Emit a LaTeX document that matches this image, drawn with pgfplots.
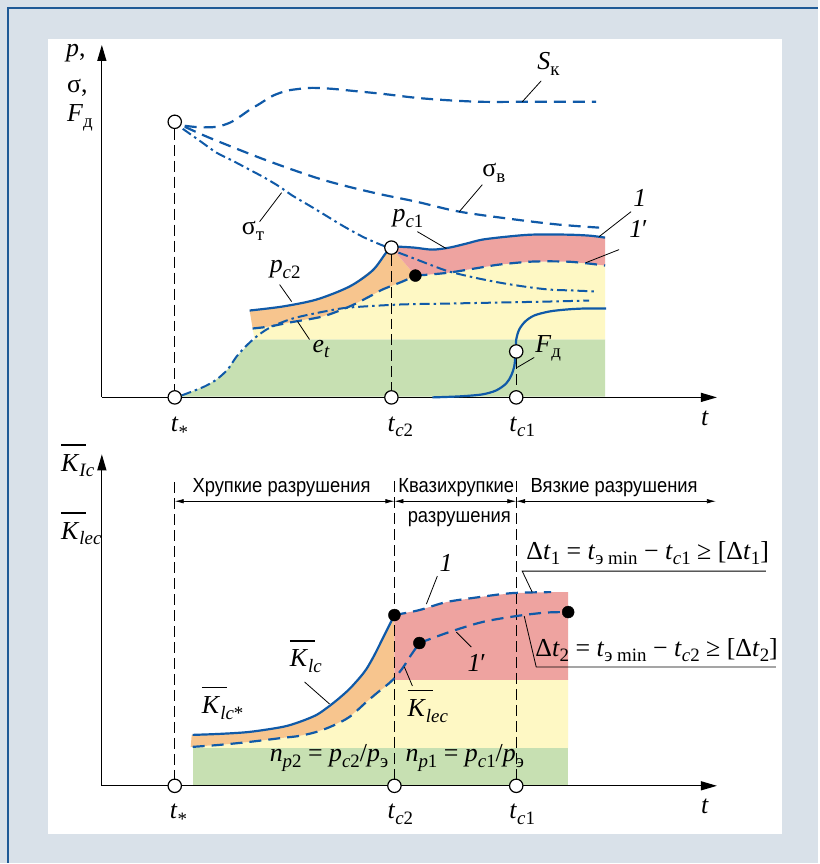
\documentclass[border=0pt]{standalone}
\usepackage{fontspec}
\setmainfont{Liberation Serif}
\newfontfamily\ru[FakeStretch=0.9]{Liberation Sans}
\usepackage{pgfplots}
\pgfplotsset{compat=1.18}
\usetikzlibrary{arrows.meta}
\definecolor{bgc}{RGB}{217,225,233}
\definecolor{brd}{RGB}{31,90,150}
\definecolor{bl}{RGB}{16,90,168}
\definecolor{gr}{RGB}{199,224,178}
\definecolor{ye}{RGB}{254,248,196}
\definecolor{orc}{RGB}{247,197,142}
\definecolor{pk}{RGB}{238,163,160}
\newcommand{\mt}{\fontsize{26}{29}\selectfont}
\newcommand{\lo}[1]{\raisebox{-5.5bp}{\fontsize{19}{19}\selectfont #1}}
\newcommand{\Kb}{\makebox[0pt][l]{\rule[25.5bp]{25bp}{1.4bp}}\textit{K}}
\pgfplotsset{ch/.style={scale only axis, axis lines=left, xtick=\empty, ytick=\empty,
  enlargelimits=false, clip=false, anchor=south west, width=616bp, xmin=102, xmax=718,
  axis line style={line width=1.3bp, -{Triangle[length=16bp,width=9bp]}}},
  dsh/.style={bl, line width=2.2bp, dash pattern=on 12bp off 7bp, smooth},
  dd/.style={bl, line width=2bp, dash pattern=on 10bp off 4bp on 2.5bp off 4bp, smooth},
  sol/.style={bl, line width=2.2bp, smooth},
  vd/.style={black, line width=0.8bp, dash pattern=on 11bp off 5bp},
  oc/.style={only marks, mark=*, mark size=6.7bp, mark options={fill=white, draw=black, line width=1.2bp, solid}},
  fc/.style={only marks, mark=*, mark size=6bp, mark options={fill=black, draw=black, solid}}}
\begin{document}
\begin{tikzpicture}[x=1bp,y=1bp,
  lab/.style={inner sep=0pt, anchor=base west, font=\mt},
  ld/.style={black, line width=0.8bp},
  rus/.style={inner sep=0pt, anchor=base, font=\ru\fontsize{20.5}{22}\selectfont},
  da/.style={line width=0.7bp, {Latex[length=9bp,width=4.5bp]}-{Latex[length=9bp,width=4.5bp]}}]
\fill[bgc] (0,0) rectangle (819,864);
\fill[white] (48,29) rectangle (783,825);
\draw[brd, line width=2.6bp] (8,0) -- (8,856) -- (819,856);

% ---------------- top chart ----------------
\begin{axis}[ch, at={(102bp,466bp)}, height=353bp, ymin=-398, ymax=-45]
\addplot[fill=gr, draw=none] coordinates {(175,-397.3) (190,-393) (205,-387) (217,-380) (228,-370) (237,-357) (247,-347) (255,-340) (606,-340) (606,-397.3)};
\addplot[fill=ye, draw=none] coordinates {(253,-329) (270,-327) (290,-323) (323,-317) (350,-307) (370,-297) (383,-290) (403,-282) (416,-276) (430,-275) (450,-273) (475,-269) (500,-265) (533,-262) (567,-262) (590,-264) (606,-266) (606,-340) (255,-340)};
\addplot[fill=orc, draw=none] coordinates {(250,-311) (283,-307) (317,-300) (350,-287) (373,-270) (387,-253) (392,-248) (416,-276) (403,-282) (383,-290) (370,-297) (350,-307) (323,-317) (290,-323) (270,-327) (253,-329)};
\addplot[fill=pk, draw=none] coordinates {(392,-248) (400,-247) (415,-248) (433,-250) (450,-248) (467,-244) (483,-240) (508,-237) (533,-235) (567,-235) (590,-236) (606,-238) (606,-266) (590,-264) (567,-262) (533,-262) (500,-265) (475,-269) (450,-273) (430,-275) (416,-276)};
\addplot[vd] coordinates {(175,-129) (175,-391)};
\addplot[vd] coordinates {(392,-255) (392,-391)};
\addplot[vd] coordinates {(517,-359) (517,-391)};
% S_k
\addplot[dsh] coordinates {(185,-126) (200,-127.5) (217,-127) (230,-123) (240,-117) (250,-110) (260,-104) (273,-96) (287,-91) (300,-89) (313,-88) (333,-89) (353,-91) (383,-94) (417,-98) (450,-100.5) (483,-102) (523,-102) (560,-102) (597,-102)};
% sigma_v
\addplot[dsh] coordinates {(185,-127) (205,-136) (227,-145) (260,-158) (293,-170) (323,-180) (353,-188) (383,-195) (417,-202) (460,-212) (517,-220) (560,-225) (600,-228)};
% sigma_t
\addplot[dd] coordinates {(183,-129) (200,-141) (217,-153) (233,-161) (250,-170) (265,-178) (280,-187) (293,-196) (310,-206) (320,-212) (343,-226) (365,-238) (386,-247)};
\addplot[dd] coordinates {(399,-253) (415,-259) (433,-266) (450,-272) (475,-278) (500,-283) (525,-287) (550,-290) (575,-291) (598,-292)};
% rising dash-dot
\addplot[dd] coordinates {(182,-396) (190,-393) (205,-387) (217,-380) (228,-370) (237,-357) (247,-346) (257,-337) (267,-330) (277,-325) (290,-320) (303,-316.5) (330,-311) (350,-308) (400,-305) (450,-304) (500,-303) (550,-302) (590,-301)};
% p_c2 solid
\addplot[sol] coordinates {(250,-311) (283,-307) (317,-300) (350,-287) (373,-271) (386,-254) (390,-250)};
% line 1
\addplot[sol] coordinates {(398,-247) (415,-248) (433,-250) (450,-248) (467,-244) (483,-240) (508,-237) (533,-235) (567,-235) (590,-236) (606,-238)};
% e_t dashed
\addplot[dsh] coordinates {(253,-329) (270,-327) (290,-323) (323,-317) (350,-307) (370,-297) (383,-290) (403,-282) (416,-276)};
% 1' dashed
\addplot[dsh] coordinates {(416,-276) (430,-275) (450,-273) (475,-269) (500,-265) (533,-262) (567,-262) (590,-264) (606,-266)};
% F_d
\addplot[sol] coordinates {(433,-398) (460,-397) (483,-395) (497,-391) (507,-384) (512,-376) (515,-367) (516,-358) (516.5,-350) (517,-340) (520,-330) (526,-322) (535,-316) (550,-312) (567,-310) (585,-309) (607,-309)};
\addplot[oc] coordinates {(175,-122) (392,-248) (175,-398) (392,-398) (517,-398) (517,-352)};
\addplot[fc] coordinates {(416,-276)};
% leaders
\draw[ld] (axis cs:542,-81) -- (axis cs:523,-102);
\draw[ld] (axis cs:483,-185) -- (axis cs:460,-212);
\draw[ld] (axis cs:260,-222) -- (axis cs:282,-193);
\draw[ld] (axis cs:418,-232) -- (axis cs:447,-249);
\draw[ld] (axis cs:632,-212) -- (axis cs:600,-237);
\draw[ld] (axis cs:620,-250) -- (axis cs:587,-263);
\draw[ld] (axis cs:280,-285) -- (axis cs:292,-302);
\draw[ld] (axis cs:310,-340) -- (axis cs:298,-322);
\draw[ld] (axis cs:535,-358) -- (axis cs:518,-368);
% labels
\node[lab] at (axis cs:66,-57) {\textit{p},};
\node[lab] at (axis cs:67,-93) {σ,};
\node[lab] at (axis cs:67,-122) {\textit{F}\lo{д}};
\node[lab] at (axis cs:538,-70) {\textit{S}\lo{к}};
\node[lab] at (axis cs:483,-177) {σ\lo{в}};
\node[lab] at (axis cs:242,-235) {σ\lo{т}};
\node[lab] at (axis cs:393,-222) {\textit{p}\lo{\textit{c}1}};
\node[lab] at (axis cs:634,-207) {\textit{1}};
\node[lab] at (axis cs:630,-238) {\textit{1}′};
\node[lab] at (axis cs:270,-273) {\textit{p}\lo{\textit{c}2}};
\node[lab] at (axis cs:313,-353) {\textit{e}\lo{\textit{t}}};
\node[lab] at (axis cs:536,-353) {\textit{F}\lo{д}};
\node[lab] at (axis cs:171,-432) {\textit{t}\raisebox{-7bp}{\fontsize{19}{19}\selectfont *}};
\node[lab] at (axis cs:388,-432) {\textit{t}\lo{\textit{c}2}};
\node[lab] at (axis cs:510,-432) {\textit{t}\lo{\textit{c}1}};
\node[lab] at (axis cs:702,-426) {\textit{t}};
\end{axis}

% ---------------- bottom chart ----------------
\begin{axis}[ch, at={(102bp,77bp)}, height=332bp, ymin=-787, ymax=-455]
\addplot[fill=gr, draw=none] coordinates {(193,-749) (569,-749) (569,-786.3) (193,-786.3)};
\addplot[fill=ye, draw=none] coordinates {(193,-748) (220,-746) (250,-743) (283,-739) (300,-737) (317,-733) (333,-727) (350,-718) (367,-703) (380,-692) (390,-685) (395,-681) (569,-681) (569,-749) (193,-749)};
\addplot[fill=orc, draw=none] coordinates {(192,-736) (220,-735) (250,-733) (283,-728) (300,-723) (317,-716) (330,-707) (340,-699) (350,-690) (360,-679) (367,-670) (375,-656) (383,-640) (390,-626) (395,-616) (395,-680) (390,-685) (380,-692) (367,-703) (350,-718) (333,-727) (317,-733) (300,-737) (283,-739) (250,-743) (220,-746) (191,-748)};
\addplot[fill=pk, draw=none] coordinates {(395,-616) (420,-611) (447,-603) (480,-598) (513,-594) (552,-593) (569,-593) (569,-681) (395,-681)};
\addplot[vd] coordinates {(175,-483) (175,-780)};
\addplot[vd] coordinates {(395,-482) (395,-780)};
\addplot[vd] coordinates {(517,-482) (517,-780)};
\draw[da] (axis cs:175,-502) -- (axis cs:395,-502);
\draw[da] (axis cs:395,-502) -- (axis cs:517,-502);
\draw[da] (axis cs:517,-502) -- (axis cs:717,-502);
% K_Ic solid
\addplot[sol] coordinates {(193,-736) (220,-735) (250,-733) (283,-728) (300,-723) (317,-716) (330,-707) (340,-699) (350,-690) (360,-679) (367,-670) (375,-656) (383,-640) (390,-626) (395,-616)};
% K_lec dashed
\addplot[dsh] coordinates {(193,-748) (220,-746) (250,-743) (283,-739) (300,-737) (317,-733) (333,-727) (350,-718) (367,-703) (380,-692) (390,-684) (397,-677) (404,-668) (411,-657) (420,-644)};
% line 1 dashed
\addplot[dsh] coordinates {(395,-616) (420,-611) (447,-603) (480,-598) (513,-594) (552,-593)};
% line 1' dashed
\addplot[dsh] coordinates {(420,-644) (450,-633) (483,-623) (517,-617) (547,-613.5) (569,-613)};
\addplot[oc] coordinates {(175,-787) (395,-787) (517,-787)};
\addplot[fc] coordinates {(395,-616) (420,-644) (569,-613)};
% leaders
\draw[ld] (axis cs:767,-572) -- (axis cs:523,-572) -- (axis cs:533,-593);
\draw[ld] (axis cs:525,-617) -- (axis cs:537,-668) -- (axis cs:777,-668);
\draw[ld] (axis cs:438,-577) -- (axis cs:427,-605);
\draw[ld] (axis cs:472,-648) -- (axis cs:457,-633);
\draw[ld] (axis cs:305,-683) -- (axis cs:330,-705);
\draw[ld] (axis cs:413,-687) -- (axis cs:405,-668);
% labels
\node[lab] at (axis cs:61,-472) {\Kb\lo{\textit{Ic}}};
\node[lab] at (axis cs:61,-540) {\Kb\lo{\textit{lec}}};
\node[rus] at (axis cs:282,-493) {Хрупкие разрушения};
\node[rus] at (axis cs:457,-493) {Квазихрупкие};
\node[rus] at (axis cs:460,-523) {разрушения};
\node[rus] at (axis cs:615,-493) {Вязкие разрушения};
\node[lab] at (axis cs:527,-560) {Δ\textit{t}\lo{1} = \textit{t}\lo{э min} − \textit{t}\lo{\textit{c}1} ≥ [Δ\textit{t}\lo{1}]};
\node[lab] at (axis cs:536,-657) {Δ\textit{t}\lo{2} = \textit{t}\lo{э min} − \textit{t}\lo{\textit{c}2} ≥ [Δ\textit{t}\lo{2}]};
\node[lab] at (axis cs:440,-572) {\textit{1}};
\node[lab] at (axis cs:468,-673) {\textit{1}′};
\node[lab] at (axis cs:290,-668) {\Kb\lo{\textit{lc}}};
\node[lab] at (axis cs:202,-715) {\Kb\lo{\textit{lc}*}};
\node[lab] at (axis cs:408,-718) {\Kb\lo{\textit{lec}}};
\node[lab] at (axis cs:270,-763) {\textit{n}\lo{\textit{p}2} = \textit{p}\lo{\textit{c}2}/\textit{p}\lo{э}};
\node[lab] at (axis cs:406,-763) {\textit{n}\lo{\textit{p}1} = \textit{p}\lo{\textit{c}1}/\textit{p}\lo{э}};
\node[lab] at (axis cs:170,-820) {\textit{t}\raisebox{-7bp}{\fontsize{19}{19}\selectfont *}};
\node[lab] at (axis cs:388,-820) {\textit{t}\lo{\textit{c}2}};
\node[lab] at (axis cs:510,-820) {\textit{t}\lo{\textit{c}1}};
\node[lab] at (axis cs:702,-815) {\textit{t}};
\end{axis}
\end{tikzpicture}
\end{document}
